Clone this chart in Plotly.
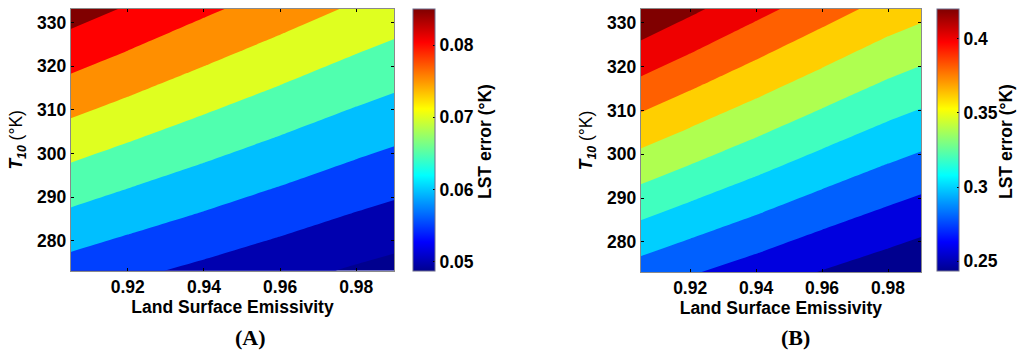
import plotly.graph_objects as go

# ---------------- data ----------------
emissivity = [0.905, 0.92, 0.94, 0.96, 0.98, 0.99]
t10 = [273.15, 333.15]

# Panel A: LST error (K) at T10 = 273.15 K and T10 = 333.15 K
errA_t273 = [0.0579, 0.05607, 0.05384, 0.05161, 0.04939, 0.0484]
errA_t333 = [0.08725, 0.08453, 0.08091, 0.07755, 0.07428, 0.0728]
levelsA = [0.05, 0.085, 0.005]          # start, end, step
cbarA_range = [0.0487, 0.085]
cbarA_ticks = [0.05, 0.06, 0.07, 0.08]
cbarA_text = ["0.05", "0.06", "0.07", "0.08"]

# Panel B
errB_t273 = [0.2912, 0.2820, 0.2706, 0.2591, 0.2489, 0.2437]
errB_t333 = [0.4376, 0.4241, 0.4062, 0.3892, 0.3729, 0.3665]
levelsB = [0.26, 0.42, 0.02]
cbarB_range = [0.2435, 0.42]
cbarB_ticks = [0.25, 0.30, 0.35, 0.40]
cbarB_text = ["0.25", "0.3", "0.35", "0.4"]

x_ticks = [0.92, 0.94, 0.96, 0.98]
y_ticks = [280, 290, 300, 310, 320, 330]
x_title = "Land Surface Emissivity"
y_title = "<b><i>T</i><sub><i>10</i></sub></b> (°K)"
cbar_title = "LST error (°K)"
panel_labels = ["(A)", "(B)"]

# ---------------- MATLAB jet(64) ----------------
def jet64():
    n, m = 64, 16
    u = [i / m for i in range(1, m + 1)] + [1.0] * (m - 1) + [i / m for i in range(m, 0, -1)]
    g = [m // 2 + i for i in range(1, len(u) + 1)]
    r = [gi + m for gi in g]
    b = [gi - m for gi in g]
    g = [x for x in g if x <= n]
    r = [x for x in r if x <= n]
    b = [x for x in b if x >= 1]
    J = [[0.0, 0.0, 0.0] for _ in range(n)]
    for k, idx in enumerate(r):
        J[idx - 1][0] = u[k]
    for k, idx in enumerate(g):
        J[idx - 1][1] = u[k]
    off = len(u) - len(b)
    for k, idx in enumerate(b):
        J[idx - 1][2] = u[off + k]
    return J

JET = jet64()

def rgb(c):
    return "rgb(%d,%d,%d)" % tuple(round(255 * v) for v in c)

jet_scale = [[i / 63, rgb(JET[i])] for i in range(64)]

def jet_at(v, cmin, cmax):
    idx = int((v - cmin) / (cmax - cmin) * 64)
    idx = max(0, min(63, idx))
    return rgb(JET[idx])

def band_scale(levels, crange):
    start, end, step = levels
    nlev = int(round((end - start) / step)) + 1
    cols = [rgb(JET[0])] + [jet_at(start + k * step, *crange) for k in range(nlev)]
    return [[k / nlev, cols[k]] for k in range(nlev + 1)]

W, H = 1024, 359
FONT = "Liberation Sans"
FS = 17.5

fig = go.Figure()

panels = [
    dict(z=[errA_t273, errA_t333], lev=levelsA, cr=cbarA_range, ct=cbarA_ticks, ctt=cbarA_text,
         xa="x", ya="y", cbx=412.7, tx=485),
    dict(z=[errB_t273, errB_t333], lev=levelsB, cr=cbarB_range, ct=cbarB_ticks, ctt=cbarB_text,
         xa="x2", ya="y2", cbx=937.3, tx=1006),
]

for p in panels:
    fig.add_trace(go.Contour(
        x=emissivity, y=t10, z=p["z"],
        autocontour=False,
        contours=dict(start=p["lev"][0], end=p["lev"][1], size=p["lev"][2], coloring="fill"),
        colorscale=band_scale(p["lev"], p["cr"]),
        line=dict(width=0, smoothing=0),
        showscale=False, hoverinfo="skip",
        xaxis=p["xa"], yaxis=p["ya"],
    ))
    fig.add_trace(go.Scatter(
        x=[0.8], y=[300], mode="markers",
        marker=dict(size=1, color=[p["cr"][0]], colorscale=jet_scale, cmin=p["cr"][0], cmax=p["cr"][1],
                    showscale=True,
                    colorbar=dict(
                        x=p["cbx"] / W, xanchor="left", xpad=0, ypad=0,
                        y=1 - 9 / H, yanchor="top", lenmode="pixels", len=262,
                        thickness=22, thicknessmode="pixels",
                        outlinewidth=1, outlinecolor="#6a6a8a",
                        tickvals=p["ct"], ticktext=p["ctt"],
                        ticks="inside", ticklen=2, tickcolor="black",
                        tickfont=dict(family=FONT, size=FS, color="black", weight="bold"),
                    )),
        hoverinfo="skip", showlegend=False,
        xaxis=p["xa"], yaxis=p["ya"],
    ))
    fig.add_annotation(text=cbar_title, x=p["tx"] / W, y=1 - 142 / H, xref="paper", yref="paper",
                       xanchor="center", yanchor="middle", textangle=-90, showarrow=False,
                       font=dict(family=FONT, size=FS, color="black", weight="bold"))

axis_common = dict(showgrid=False, zeroline=False, showline=True, linecolor="#8a8a8a", linewidth=1,
                   mirror="ticks", ticks="inside", ticklen=3, tickcolor="black",
                   tickfont=dict(family=FONT, size=FS, color="black", weight="bold"))

fig.update_layout(
    width=W, height=H, margin=dict(l=0, r=0, t=0, b=0),
    paper_bgcolor="white", plot_bgcolor="white", showlegend=False,
    xaxis=dict(domain=[70.7 / W, 394.3 / W], range=[0.905, 0.99], tickvals=x_ticks,
               ticktext=["%.2f" % v for v in x_ticks], anchor="y",
               title=dict(text=x_title, standoff=2,
                          font=dict(family=FONT, size=FS, color="black", weight="bold")),
               **axis_common),
    yaxis=dict(domain=[1 - 270.7 / H, 1 - 9 / H], range=[273.15, 333.15], tickvals=y_ticks, anchor="x",
               title=dict(text=y_title, standoff=9, font=dict(family=FONT, size=FS, color="black")),
               **axis_common),
    xaxis2=dict(domain=[640.7 / W, 921 / W], range=[0.905, 0.99], tickvals=x_ticks,
                ticktext=["%.2f" % v for v in x_ticks], anchor="y2",
                title=dict(text=x_title, standoff=2,
                           font=dict(family=FONT, size=FS, color="black", weight="bold")),
                **axis_common),
    yaxis2=dict(domain=[1 - 272 / H, 1 - 9 / H], range=[273.15, 333.15], tickvals=y_ticks, anchor="x2",
                title=dict(text=y_title, standoff=9, font=dict(family=FONT, size=FS, color="black")),
                **axis_common),
)

for txt, cx in zip(panel_labels, [250, 795]):
    fig.add_annotation(text="<b>%s</b>" % txt, x=cx / W, y=1 - 337 / H, xref="paper", yref="paper",
                       xanchor="center", yanchor="middle", showarrow=False,
                       font=dict(family="Liberation Serif", size=22, color="black"))

fig.write_html("out.html", config={"displayModeBar": False},
               post_script="document.body.style.margin='0';document.body.style.overflow='hidden';")
